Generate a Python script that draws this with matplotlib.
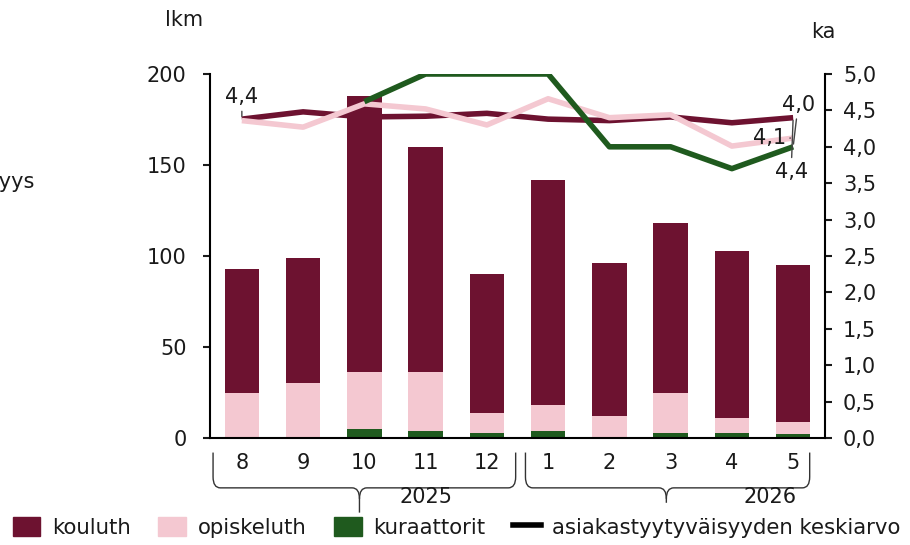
import numpy as np
import matplotlib
matplotlib.use("Agg")
import matplotlib.pyplot as plt
from matplotlib.patches import Patch
from matplotlib.lines import Line2D
from matplotlib.path import Path
from matplotlib.patches import PathPatch
from matplotlib.ticker import FuncFormatter

# data
months = ["8", "9", "10", "11", "12", "1", "2", "3", "4", "5"]
years = ["2025", "2026"]
kouluth = [68, 69, 152, 124, 76, 124, 84, 93, 92, 86]
opiskeluth = [25, 30, 31, 32, 11, 14, 12, 22, 8, 7]
kuraattorit = [0, 0, 5, 4, 3, 4, 0, 3, 3, 2]
ka_kouluth = [4.38, 4.48, 4.41, 4.42, 4.46, 4.38, 4.36, 4.41, 4.33, 4.40]
ka_opiskeluth = [4.36, 4.27, 4.59, 4.52, 4.30, 4.66, 4.40, 4.44, 4.01, 4.12]
ka_kuraattorit = [np.nan, np.nan, 4.62, 5.0, 5.0, 5.0, 4.0, 4.0, 3.7, 4.0]

c_koulu = "#6D1230"
c_opisk = "#F4C8D1"
c_kura = "#1F5A1E"

plt.rcParams["font.family"] = "DejaVu Sans"
plt.rcParams["font.size"] = 15
txt = "#1a1a1a"

W, H = 910, 545
fig = plt.figure(figsize=(W / 100, H / 100), dpi=100)
ax = fig.add_axes([210 / W, 1 - 438 / H, 615 / W, 364 / H])
ax2 = ax.twinx()

x = np.arange(len(months))
kura = np.array(kuraattorit)
opisk = np.array(opiskeluth)
koulu = np.array(kouluth)
bw = 0.56
ax.bar(x, kura, bw, color=c_kura, zorder=2)
ax.bar(x, opisk, bw, bottom=kura, color=c_opisk, zorder=2)
ax.bar(x, koulu, bw, bottom=kura + opisk, color=c_koulu, zorder=2)

ax.set_xlim(-0.52, 9.52)
ax.set_ylim(0, 200)
ax.set_yticks(range(0, 201, 50))
ax.set_xticks([])
for s in ["top", "right"]:
    ax.spines[s].set_visible(False)
ax.spines["left"].set_linewidth(1.5)
ax.spines["bottom"].set_linewidth(1.5)
ax.tick_params(axis="y", direction="out", length=5, width=1.5, pad=12, colors=txt)

ax2.plot(x, ka_kouluth, color=c_koulu, lw=4, solid_capstyle="butt")
ax2.plot(x, ka_opiskeluth, color=c_opisk, lw=4, solid_capstyle="butt")
ax2.plot(x, ka_kuraattorit, color=c_kura, lw=4, solid_capstyle="butt")
ax2.set_ylim(0, 5)
ax2.set_yticks(np.arange(0, 5.01, 0.5))
ax2.yaxis.set_major_formatter(FuncFormatter(lambda v, p: f"{v:.1f}".replace(".", ",")))
for s in ["top", "left", "bottom"]:
    ax2.spines[s].set_visible(False)
ax2.spines["right"].set_linewidth(1.5)
ax2.tick_params(axis="y", direction="out", length=5, width=1.5, pad=8, colors=txt)

# data labels
ap = dict(arrowstyle="-", color="#444444", lw=1, shrinkA=1, shrinkB=2)
ax2.annotate("4,4", (0, ka_kouluth[0]), xytext=(0, 12), textcoords="offset pixels",
             ha="center", va="bottom", color=txt, arrowprops=ap)
ax2.annotate("4,0", (9, ka_kuraattorit[9]), xytext=(5, 42), textcoords="offset pixels",
             ha="center", va="center", color=txt, arrowprops=ap)
ax2.annotate("4,1", (9, ka_opiskeluth[9]), xytext=(-24, 0), textcoords="offset pixels",
             ha="center", va="center", color=txt, arrowprops=ap)
ax2.annotate("4,4", (9, ka_kouluth[9]), xytext=(-2, -54), textcoords="offset pixels",
             ha="center", va="center", color=txt, arrowprops=ap)

# category labels and year braces
for i, m in enumerate(months):
    ax.text(i, -0.07, m, transform=ax.get_xaxis_transform(), ha="center", va="center", color=txt)


def brace(x0, x1, xt, ytop, ymid, ytip):
    tr = ax.get_xaxis_transform()
    r = 0.12
    ry = 0.03
    verts = [(x0, ytop), (x0, ymid + ry), (x0, ymid), (x0 + r, ymid),
             (xt - r, ymid), (xt, ymid), (xt, ymid - ry), (xt, ytip)]
    codes = [Path.MOVETO, Path.LINETO, Path.CURVE3, Path.CURVE3,
             Path.LINETO, Path.CURVE3, Path.CURVE3, Path.LINETO]
    ax.add_patch(PathPatch(Path(verts, codes), fill=False, lw=1, ec="#333333",
                           transform=tr, clip_on=False))
    verts = [(x1, ytop), (x1, ymid + ry), (x1, ymid), (x1 - r, ymid),
             (xt + r, ymid), (xt, ymid), (xt, ymid - ry)]
    codes = [Path.MOVETO, Path.LINETO, Path.CURVE3, Path.CURVE3,
             Path.LINETO, Path.CURVE3, Path.CURVE3]
    ax.add_patch(PathPatch(Path(verts, codes), fill=False, lw=1, ec="#333333",
                           transform=tr, clip_on=False))


brace(-0.47, 4.47, 1.92, -0.04, -0.137, -0.205)
brace(4.63, 9.27, 6.93, -0.04, -0.137, -0.178)
ax.text(3.0, -0.163, years[0], transform=ax.get_xaxis_transform(), ha="center", va="center", color=txt)
ax.text(8.62, -0.163, years[1], transform=ax.get_xaxis_transform(), ha="center", va="center", color=txt)

fig.text(184 / W, 1 - 20 / H, "lkm", ha="center", va="center", color=txt)
fig.text(823 / W, 1 - 32 / H, "ka", ha="center", va="center", color=txt)
fig.text(35 / W, 1 - 182 / H, "asiakastyytyväisyys", ha="right", va="center", color=txt)

handles = [Patch(color=c_koulu), Patch(color=c_opisk), Patch(color=c_kura),
           Line2D([], [], color="black", lw=4)]
labels = ["kouluth", "opiskeluth", "kuraattorit", "asiakastyytyväisyyden keskiarvo"]
fig.legend(handles, labels, loc="lower left", bbox_to_anchor=(0.0, -0.01), ncol=4,
           frameon=False, handlelength=1.3, handleheight=1.0, handletextpad=0.55,
           columnspacing=1.3, borderaxespad=0.2, labelcolor=txt, fontsize=15.3)

fig.savefig("out.png", dpi=100)
